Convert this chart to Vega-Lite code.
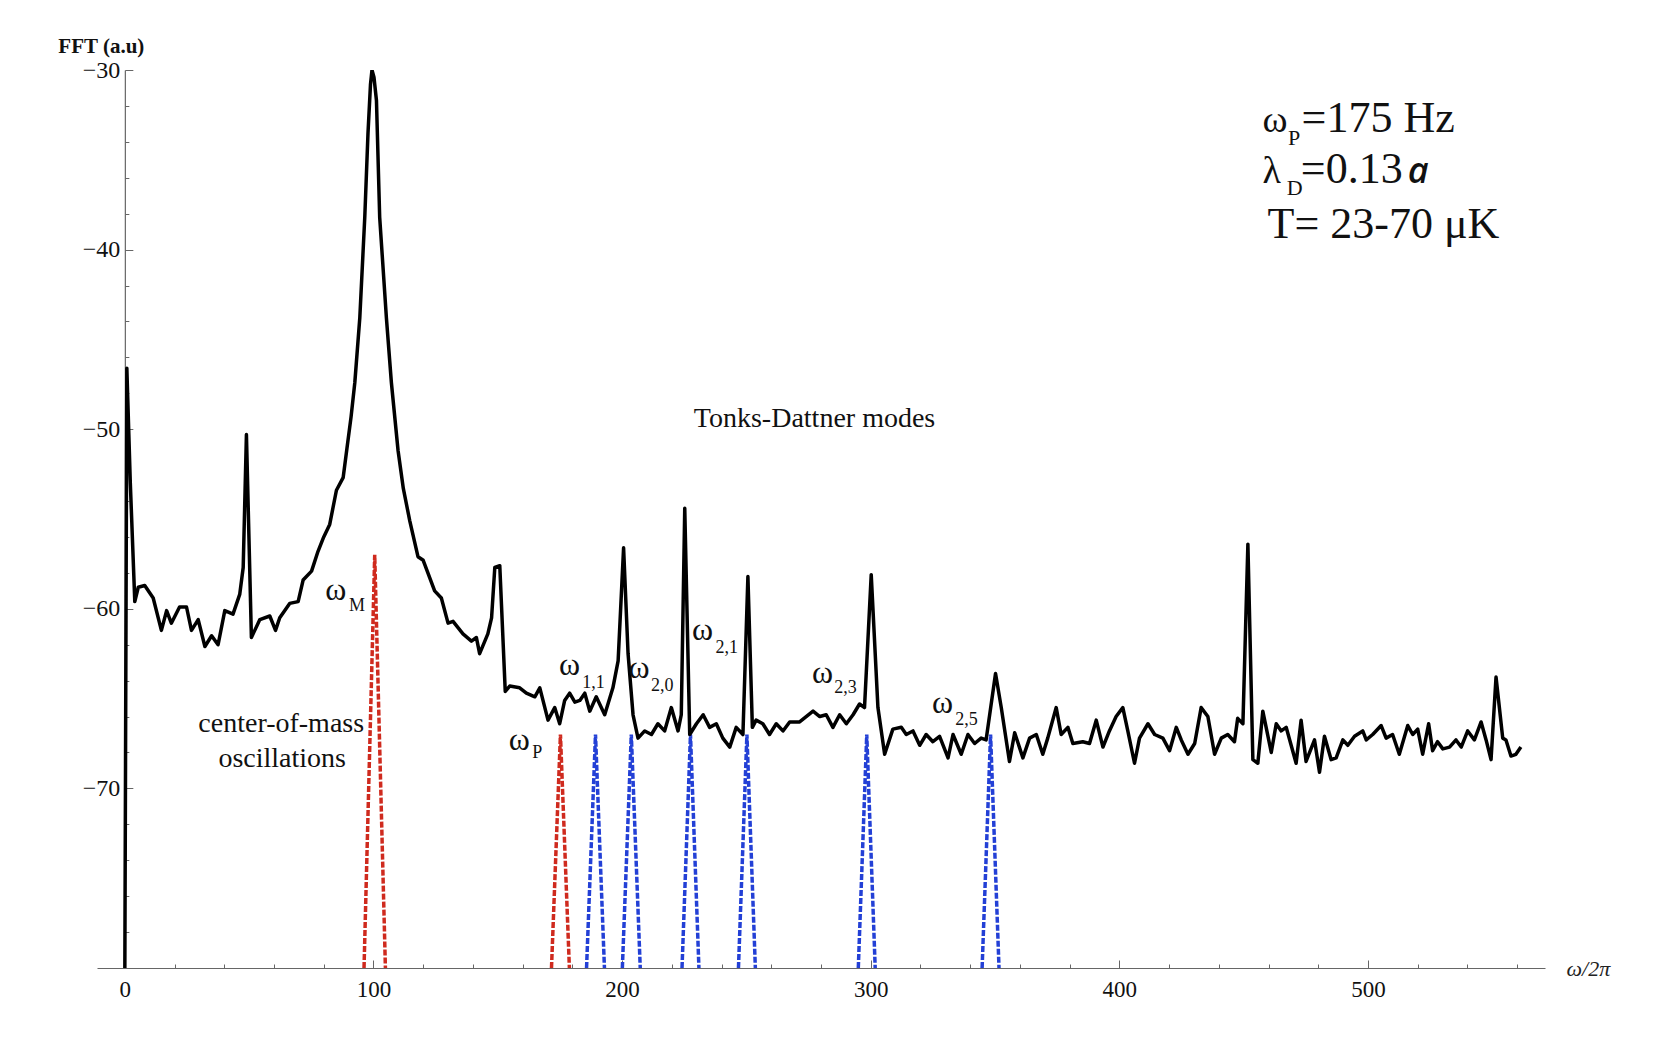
{
  "$schema": "https://vega.github.io/schema/vega-lite/v6.json",
  "width": 1448,
  "height": 898,
  "autosize": "none",
  "padding": {"left": 97, "top": 70, "right": 119, "bottom": 77},
  "background": "white",
  "config": {"view": {"stroke": null}, "font": "Liberation Serif", "axis": {"labelOverlap": false, "labelBound": false}},
  "datasets": {
    "spec": [
      {"f":0,"a":-80},{"f":0.8,"a":-46.6},{"f":2.2,"a":-53},{"f":4,"a":-59.6},{"f":5.4,"a":-58.8},{"f":8,"a":-58.7},{"f":11.4,"a":-59.4},{"f":14.7,"a":-61.2},{"f":16.8,"a":-60.1},{"f":18.7,"a":-60.8},{"f":22,"a":-59.9},{"f":24.8,"a":-59.9},{"f":26.8,"a":-61.2},{"f":29.5,"a":-60.6},{"f":32.2,"a":-62.1},{"f":34.9,"a":-61.5},{"f":37.5,"a":-62.0},{"f":40.2,"a":-60.1},{"f":43.5,"a":-60.3},{"f":46.2,"a":-59.2},{"f":47.6,"a":-57.7},{"f":48.9,"a":-50.3},{"f":50.9,"a":-61.6},{"f":54.3,"a":-60.6},{"f":58.3,"a":-60.4},{"f":60.6,"a":-61.2},{"f":62.3,"a":-60.5},{"f":66.3,"a":-59.7},{"f":69.7,"a":-59.6},{"f":71.7,"a":-58.4},{"f":75.1,"a":-57.9},{"f":77.7,"a":-56.8},{"f":80,"a":-56.0},{"f":82.4,"a":-55.3},{"f":85.1,"a":-53.4},{"f":87.8,"a":-52.7},{"f":89.3,"a":-51.1},{"f":91,"a":-49.3},{"f":92.5,"a":-47.4},{"f":94.5,"a":-43.8},{"f":96.5,"a":-38.2},{"f":97.8,"a":-33.5},{"f":98.8,"a":-30.8},{"f":99.4,"a":-30.0},{"f":100.2,"a":-30.4},{"f":101.2,"a":-31.7},{"f":102.5,"a":-38.2},{"f":105.2,"a":-43.8},{"f":107.2,"a":-47.4},{"f":109.9,"a":-51.2},{"f":112,"a":-53.3},{"f":114.6,"a":-55.1},{"f":117.9,"a":-57.1},{"f":120,"a":-57.3},{"f":124.6,"a":-59.0},{"f":127.3,"a":-59.4},{"f":130,"a":-60.8},{"f":132,"a":-60.7},{"f":136,"a":-61.4},{"f":139.4,"a":-61.8},{"f":141.4,"a":-61.6},{"f":142.7,"a":-62.5},{"f":146,"a":-61.4},{"f":147.5,"a":-60.5},{"f":148.8,"a":-57.7},{"f":150.8,"a":-57.6},{"f":153,"a":-64.6},{"f":154.8,"a":-64.3},{"f":158.8,"a":-64.4},{"f":161.5,"a":-64.7},{"f":164.9,"a":-64.9},{"f":166.9,"a":-64.4},{"f":170.2,"a":-66.2},{"f":172.9,"a":-65.5},{"f":174.9,"a":-66.4},{"f":176.9,"a":-65.1},{"f":178.9,"a":-64.7},{"f":181,"a":-65.2},{"f":183,"a":-65.1},{"f":185,"a":-64.7},{"f":187,"a":-65.7},{"f":189.6,"a":-64.9},{"f":193,"a":-65.9},{"f":196.3,"a":-64.4},{"f":198.4,"a":-62.9},{"f":200.6,"a":-56.6},{"f":202.4,"a":-62.5},{"f":204.4,"a":-65.9},{"f":206.4,"a":-67.2},{"f":209.1,"a":-66.8},{"f":211.8,"a":-67.0},{"f":214.4,"a":-66.4},{"f":217.1,"a":-66.8},{"f":219.8,"a":-65.5},{"f":222.5,"a":-66.8},{"f":223.8,"a":-65.9},{"f":225.2,"a":-54.4},{"f":227.2,"a":-67.0},{"f":229.9,"a":-66.4},{"f":232.6,"a":-65.9},{"f":235.2,"a":-66.6},{"f":237.9,"a":-66.4},{"f":240.5,"a":-67.2},{"f":243.3,"a":-67.7},{"f":245.9,"a":-66.6},{"f":248.6,"a":-67.0},{"f":250.6,"a":-58.2},{"f":252.4,"a":-66.6},{"f":253.9,"a":-66.2},{"f":256.6,"a":-66.4},{"f":259.3,"a":-67.0},{"f":262,"a":-66.4},{"f":264.7,"a":-66.8},{"f":267.4,"a":-66.3},{"f":271.4,"a":-66.3},{"f":276.8,"a":-65.7},{"f":279.5,"a":-66.0},{"f":282.1,"a":-65.9},{"f":284.8,"a":-66.6},{"f":287.5,"a":-65.9},{"f":290.2,"a":-66.4},{"f":292.9,"a":-65.9},{"f":295.5,"a":-65.3},{"f":297.5,"a":-65.5},{"f":300.2,"a":-58.1},{"f":302.9,"a":-65.5},{"f":305.6,"a":-68.1},{"f":308.9,"a":-66.7},{"f":312.3,"a":-66.6},{"f":314.3,"a":-67.0},{"f":317,"a":-66.8},{"f":319.7,"a":-67.6},{"f":322.3,"a":-67.0},{"f":325,"a":-67.4},{"f":327.7,"a":-67.1},{"f":331.1,"a":-68.3},{"f":333.1,"a":-67.0},{"f":336.4,"a":-68.1},{"f":339.1,"a":-67.0},{"f":341.8,"a":-67.5},{"f":344.4,"a":-67.2},{"f":346.4,"a":-67.3},{"f":350.2,"a":-63.6},{"f":352.5,"a":-65.5},{"f":355.8,"a":-68.5},{"f":357.9,"a":-66.9},{"f":361.2,"a":-68.3},{"f":363.9,"a":-67.2},{"f":366.6,"a":-67.0},{"f":369.2,"a":-68.1},{"f":371.2,"a":-67.2},{"f":374.6,"a":-65.5},{"f":376.6,"a":-67.0},{"f":379.3,"a":-66.6},{"f":381.3,"a":-67.5},{"f":385.3,"a":-67.4},{"f":388,"a":-67.5},{"f":390.7,"a":-66.2},{"f":393.4,"a":-67.7},{"f":396,"a":-66.8},{"f":398.7,"a":-66.0},{"f":401.4,"a":-65.5},{"f":403.4,"a":-66.8},{"f":406.1,"a":-68.6},{"f":408.1,"a":-67.2},{"f":411.5,"a":-66.4},{"f":414.2,"a":-67.0},{"f":417.5,"a":-67.2},{"f":420.2,"a":-67.9},{"f":422.9,"a":-66.6},{"f":424.9,"a":-67.3},{"f":427.6,"a":-68.1},{"f":430.3,"a":-67.5},{"f":432.9,"a":-65.5},{"f":435.6,"a":-66.0},{"f":438.3,"a":-68.1},{"f":441,"a":-67.2},{"f":443.6,"a":-67.0},{"f":446.3,"a":-67.4},{"f":447.6,"a":-66.1},{"f":449.7,"a":-66.4},{"f":451.7,"a":-56.4},{"f":453.7,"a":-68.4},{"f":455.7,"a":-68.6},{"f":457.7,"a":-65.7},{"f":461.1,"a":-68.0},{"f":463.1,"a":-66.4},{"f":465.1,"a":-66.8},{"f":467.1,"a":-66.6},{"f":471.1,"a":-68.6},{"f":473.1,"a":-66.2},{"f":475.1,"a":-68.5},{"f":478.5,"a":-67.3},{"f":480.5,"a":-69.1},{"f":482.5,"a":-67.1},{"f":485.2,"a":-68.4},{"f":487.2,"a":-68.3},{"f":489.9,"a":-67.3},{"f":491.9,"a":-67.6},{"f":494.6,"a":-67.1},{"f":497.9,"a":-66.8},{"f":499.3,"a":-67.3},{"f":501.9,"a":-67.0},{"f":505.3,"a":-66.5},{"f":507.3,"a":-67.2},{"f":509.9,"a":-67.0},{"f":512.6,"a":-68.1},{"f":516,"a":-66.5},{"f":518,"a":-67.0},{"f":520,"a":-66.7},{"f":522,"a":-68.1},{"f":524.4,"a":-66.4},{"f":526,"a":-67.9},{"f":528,"a":-67.4},{"f":530.1,"a":-67.8},{"f":532.8,"a":-67.7},{"f":535.4,"a":-67.3},{"f":537.5,"a":-67.7},{"f":540.1,"a":-66.8},{"f":542.8,"a":-67.3},{"f":545.5,"a":-66.3},{"f":547.5,"a":-67.3},{"f":549.5,"a":-68.4},{"f":551.5,"a":-63.8},{"f":554.2,"a":-67.2},{"f":555.5,"a":-67.3},{"f":557.5,"a":-68.2},{"f":559.5,"a":-68.1},{"f":561.5,"a":-67.7}
    ],
    "tri": [
      {"f":96.2,"a":-80,"g":"M","c":"red"},{"f":100.5,"a":-57,"g":"M","c":"red"},{"f":104.8,"a":-80,"g":"M","c":"red"},
      {"f":171.6,"a":-80,"g":"P","c":"red"},{"f":175.2,"a":-67,"g":"P","c":"red"},{"f":178.8,"a":-80,"g":"P","c":"red"},
      {"f":185.7,"a":-80,"g":"11","c":"blue"},{"f":189.3,"a":-67,"g":"11","c":"blue"},{"f":192.9,"a":-80,"g":"11","c":"blue"},
      {"f":200.1,"a":-80,"g":"20","c":"blue"},{"f":203.7,"a":-67,"g":"20","c":"blue"},{"f":207.3,"a":-80,"g":"20","c":"blue"},
      {"f":224.1,"a":-80,"g":"21","c":"blue"},{"f":227.5,"a":-67,"g":"21","c":"blue"},{"f":230.9,"a":-80,"g":"21","c":"blue"},
      {"f":246.8,"a":-80,"g":"22","c":"blue"},{"f":250.2,"a":-67,"g":"22","c":"blue"},{"f":253.6,"a":-80,"g":"22","c":"blue"},
      {"f":295.0,"a":-80,"g":"23","c":"blue"},{"f":298.4,"a":-67,"g":"23","c":"blue"},{"f":301.8,"a":-80,"g":"23","c":"blue"},
      {"f":344.8,"a":-80,"g":"25","c":"blue"},{"f":348.2,"a":-67,"g":"25","c":"blue"},{"f":351.6,"a":-80,"g":"25","c":"blue"}
    ],
    "ann": [
      {"f":80.6,"a":-59.51,"t":"ω","k":"omega"},{"f":90.2,"a":-60.12,"t":"M","k":"sub"},
      {"f":154.4,"a":-67.86,"t":"ω","k":"omega"},{"f":163.9,"a":-68.31,"t":"P","k":"sub"},
      {"f":174.6,"a":-63.69,"t":"ω","k":"omega"},{"f":184.0,"a":-64.41,"t":"1,1","k":"sub"},
      {"f":202.6,"a":-63.85,"t":"ω","k":"omega"},{"f":211.6,"a":-64.58,"t":"2,0","k":"sub"},
      {"f":228.1,"a":-61.74,"t":"ω","k":"omega"},{"f":237.6,"a":-62.46,"t":"2,1","k":"sub"},
      {"f":276.4,"a":-64.13,"t":"ω","k":"omega"},{"f":285.3,"a":-64.69,"t":"2,3","k":"sub"},
      {"f":324.6,"a":-65.80,"t":"ω","k":"omega"},{"f":334.0,"a":-66.47,"t":"2,5","k":"sub"},
      {"f":62.9,"a":-66.84,"t":"center-of-mass","k":"note"},
      {"f":63.3,"a":-68.79,"t":"oscillations","k":"note"},
      {"f":277.4,"a":-49.86,"t":"Tonks-Dattner modes","k":"note"},
      {"f":457.6,"a":-33.45,"t":"ω","k":"bigg"},{"f":467.8,"a":-34.18,"t":"P","k":"bigsub"},{"f":473.3,"a":-33.45,"t":"=175 Hz","k":"big"},
      {"f":457.6,"a":-36.29,"t":"λ","k":"bigg"},{"f":467.3,"a":-36.96,"t":"D","k":"bigsub"},{"f":473.0,"a":-36.29,"t":"=0.13","k":"big"},{"f":516.0,"a":-36.29,"t":"a","k":"ital"},
      {"f":459.6,"a":-39.35,"t":"T= 23-70 μK","k":"big"}
    ]
  },
  "encoding": {
    "x": {"field": "f", "type": "quantitative",
      "scale": {"domain": [-11.2, 571.2], "nice": false, "zero": false},
      "axis": {
        "values": [0,20,40,60,80,100,120,140,160,180,200,220,240,260,280,300,320,340,360,380,400,420,440,460,480,500,520,540,560],
        "labelExpr": "datum.value % 100 === 0 ? datum.label : ''",
        "tickSize": {"condition": {"test": "datum.value % 100 === 0", "value": -8}, "value": -4},
        "grid": false,
        "domainColor": "#666", "tickColor": "#666", "domainWidth": 1.2,
        "labelFont": "Liberation Serif", "labelFontSize": 23, "labelColor": "#111",
        "labelPadding": 18, "labelBaseline": "top", "labelFlush": false, "labelOverlap": false,
        "title": "ω/2π", "titleFont": "Liberation Serif", "titleFontStyle": "italic", "titleFontWeight": "normal",
        "titleFontSize": 22, "titleColor": "#222",
        "titleX": 1469, "titleY": 0, "titleAlign": "left", "titleBaseline": "middle", "titleAnchor": null
      }
    },
    "y": {"field": "a", "type": "quantitative",
      "scale": {"domain": [-80, -30], "nice": false, "zero": false},
      "axis": {
        "values": [-80,-78,-76,-74,-72,-70,-68,-66,-64,-62,-60,-58,-56,-54,-52,-50,-48,-46,-44,-42,-40,-38,-36,-34,-32,-30],
        "labelExpr": "(datum.value % 10 === 0 && datum.value > -80) ? datum.label : ''",
        "tickSize": {"condition": {"test": "datum.value % 10 === 0", "value": -8}, "value": -4},
        "offset": -27.85,
        "grid": false,
        "domainColor": "#666", "tickColor": "#666", "domainWidth": 1.2,
        "labelFont": "Liberation Serif", "labelFontSize": 24, "labelColor": "#111",
        "labelPadding": 13, "labelOverlap": false, "labelFlush": false, "labelBound": false,
        "title": "FFT (a.u)", "titleFont": "Liberation Serif", "titleFontWeight": "bold", "titleFontSize": 21,
        "titleColor": "#111", "titleAngle": 0, "titleX": -67, "titleY": -18, "titleAlign": "left", "titleBaseline": "alphabetic", "titleAnchor": null
      }
    }
  },
  "layer": [
    {
      "data": {"name": "tri"},
      "mark": {"type": "line", "strokeWidth": 3.5, "strokeDash": [6, 2], "clip": true},
      "encoding": {
        "detail": {"field": "g"},
        "color": {"field": "c", "type": "nominal", "scale": {"domain": ["red", "blue"], "range": ["#cf2a1e", "#2340d6"]}, "legend": null}
      }
    },
    {
      "data": {"name": "spec"},
      "mark": {"type": "line", "color": "black", "strokeWidth": 3.5, "strokeJoin": "round", "clip": true}
    },
    {
      "data": {"name": "ann"},
      "transform": [{"filter": "datum.k === 'omega'"}],
      "mark": {"type": "text", "font": "Liberation Serif", "fontSize": 32, "align": "left", "baseline": "alphabetic", "color": "#111"},
      "encoding": {"text": {"field": "t"}}
    },
    {
      "data": {"name": "ann"},
      "transform": [{"filter": "datum.k === 'sub'"}],
      "mark": {"type": "text", "font": "Liberation Serif", "fontSize": 18, "align": "left", "baseline": "alphabetic", "color": "#111"},
      "encoding": {"text": {"field": "t"}}
    },
    {
      "data": {"name": "ann"},
      "transform": [{"filter": "datum.k === 'note'"}],
      "mark": {"type": "text", "font": "Liberation Serif", "fontSize": 28, "align": "center", "baseline": "alphabetic", "color": "#111"},
      "encoding": {"text": {"field": "t"}}
    },
    {
      "data": {"name": "ann"},
      "transform": [{"filter": "datum.k === 'big'"}],
      "mark": {"type": "text", "font": "Liberation Serif", "fontSize": 44, "align": "left", "baseline": "alphabetic", "color": "#111"},
      "encoding": {"text": {"field": "t"}}
    },
    {
      "data": {"name": "ann"},
      "transform": [{"filter": "datum.k === 'bigg'"}],
      "mark": {"type": "text", "font": "Liberation Serif", "fontSize": 38, "align": "left", "baseline": "alphabetic", "color": "#111"},
      "encoding": {"text": {"field": "t"}}
    },
    {
      "data": {"name": "ann"},
      "transform": [{"filter": "datum.k === 'bigsub'"}],
      "mark": {"type": "text", "font": "Liberation Serif", "fontSize": 22, "align": "left", "baseline": "alphabetic", "color": "#111"},
      "encoding": {"text": {"field": "t"}}
    },
    {
      "data": {"name": "ann"},
      "transform": [{"filter": "datum.k === 'ital'"}],
      "mark": {"type": "text", "font": "Open Sans", "fontSize": 36, "fontStyle": "italic", "fontWeight": 600, "align": "left", "baseline": "alphabetic", "color": "#111"},
      "encoding": {"text": {"field": "t"}}
    }
  ]
}
